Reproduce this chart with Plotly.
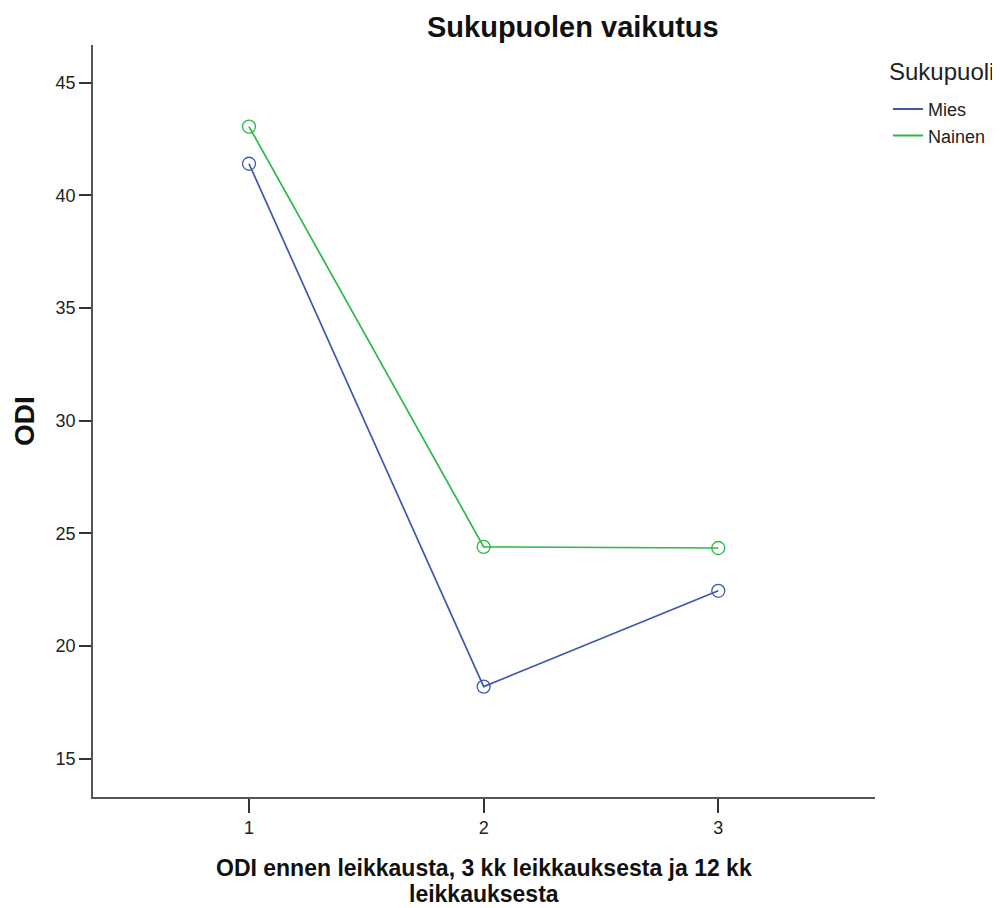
import plotly.graph_objects as go

x_vals = [1, 2, 3]
mies = [41.4, 18.2, 22.45]
nainen = [43.05, 24.4, 24.35]
series_names = ["Mies", "Nainen"]
colors = ["#3E58AC", "#2EB848"]
y_ticks = [15, 20, 25, 30, 35, 40, 45]
title_text = "Sukupuolen vaikutus"
legend_title = "Sukupuoli"
x_title_lines = ["ODI ennen leikkausta, 3 kk leikkauksesta ja 12 kk", "leikkauksesta"]
y_title = "ODI"

FONT = "Arial, Liberation Sans, sans-serif"

fig = go.Figure()
for name, vals, col in zip(series_names, [mies, nainen], colors):
    fig.add_trace(go.Scatter(
        x=x_vals, y=vals, name=name, mode="lines+markers", showlegend=False,
        line=dict(color=col, width=1.7),
        marker=dict(symbol="circle-open", size=13, color=col, line=dict(width=1.3, color=col)),
    ))
    # legend entry: line only
    fig.add_trace(go.Scatter(
        x=[None], y=[None], name=name, mode="lines",
        line=dict(color=col, width=2), showlegend=True,
    ))

axis_font = dict(family=FONT, size=18, color="#222222")

annotations = [
    dict(text="<b>%s</b>" % title_text, xref="paper", yref="paper",
         x=0.614, y=1.0, yshift=18, xanchor="center", yanchor="middle", showarrow=False,
         font=dict(family=FONT, size=29, color="#111111")),
    dict(text=legend_title, xref="paper", yref="paper",
         x=1.0, xshift=12, y=1.0, yshift=-26, xanchor="left", yanchor="middle", showarrow=False,
         font=dict(family=FONT, size=24, color="#222222")),
    dict(text="<b>%s</b>" % y_title, xref="paper", yref="paper",
         x=0.0, xshift=-69, y=0.5, xanchor="center", yanchor="middle", textangle=-90,
         showarrow=False, font=dict(family=FONT, size=28, color="#111111")),
]
for i, line in enumerate(x_title_lines):
    annotations.append(dict(
        text="<b>%s</b>" % line, xref="paper", yref="paper",
        x=0.5, y=0.0, yshift=-71 - 26 * i, xanchor="center", yanchor="middle",
        showarrow=False, font=dict(family=FONT, size=23, color="#111111")))

fig.update_layout(
    width=1000, height=908,
    paper_bgcolor="white", plot_bgcolor="white",
    margin=dict(l=85, r=133, t=37, b=119),
    showlegend=True,
    legend=dict(
        font=dict(family=FONT, size=18, color="#222222"),
        x=1.0166, xanchor="left", y=0.939, yanchor="top",
        tracegroupgap=0, itemwidth=30,
        bgcolor="rgba(0,0,0,0)",
    ),
    annotations=annotations,
)

fig.update_xaxes(
    range=[0.335, 3.668], tickvals=x_vals, ticktext=[str(v) for v in x_vals],
    showgrid=False, zeroline=False, automargin=False,
    showline=True, linecolor="#555555", linewidth=1.5,
    ticks="outside", ticklen=14, tickwidth=2, tickcolor="#333333",
    tickfont=axis_font,
)
fig.update_yaxes(
    range=[13.3, 46.67], tickvals=y_ticks,
    showgrid=False, zeroline=False, automargin=False,
    showline=True, linecolor="#555555", linewidth=1.5,
    ticks="outside", ticklen=12, tickwidth=2, tickcolor="#333333",
    tickfont=axis_font,
)

fig.write_html("out.html")
